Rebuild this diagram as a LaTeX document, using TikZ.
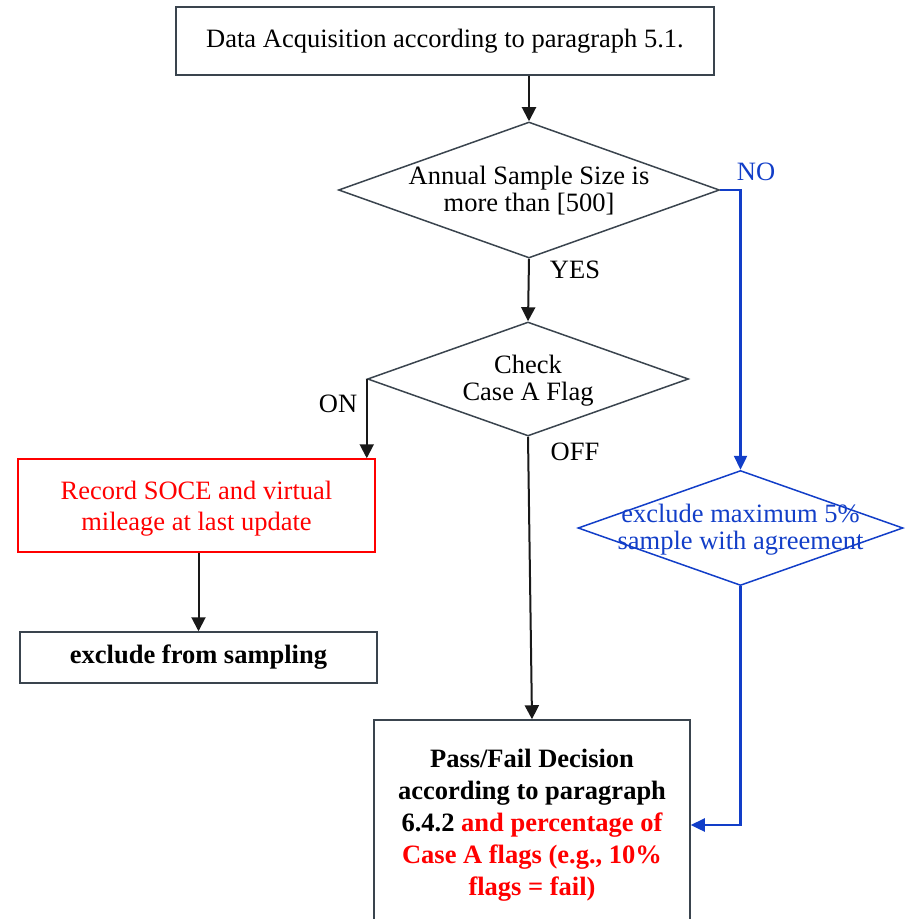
\documentclass[tikz,border=0pt]{standalone}
\usepackage{fontspec}
\setmainfont{Liberation Serif}
\usetikzlibrary{shapes.geometric}
\usetikzlibrary{arrows.meta}
\definecolor{boxgray}{RGB}{58,68,78}
\definecolor{flagred}{RGB}{255,0,0}
\definecolor{nopath}{RGB}{18,62,200}
\newcommand{\ctrtext}[1]{\makebox[0pt]{\raisebox{-1.5pt}[\height][\depth]{\begin{tabular}{@{}c@{}}#1\end{tabular}}}}

\begin{document}
\begin{tikzpicture}[x=0.5pt, y=-0.5pt,
		font=\fontsize{13.25}{15.5}\selectfont,
		stepbox/.style={draw=boxgray, line width=0.75pt, rectangle, align=center, inner sep=0pt},
		choice/.style={draw=boxgray, line width=0.75pt, diamond, inner sep=0pt, font=\fontsize{13.25}{13.4}\selectfont},
		arr/.style={draw=black!90, line width=1pt, -{Triangle[length=7pt, width=7pt]}},
		bluearr/.style={draw=nopath, line width=1.2pt, -{Triangle[length=7pt, width=6.5pt]}}]
			\clip (0,0) rectangle (905,919);
			\node [stepbox, minimum width=269pt, minimum height=34pt] (acq) at (445,41) {Data Acquisition according to paragraph 5.1.};
			\node [choice, minimum width=190.5pt, minimum height=68pt] (size) at (529,190) {\ctrtext{Annual Sample Size is\\more than [500]}};
			\node [choice, minimum width=160.5pt, minimum height=57pt] (flag) at (528,379) {\ctrtext{Check\\Case A Flag}};
			\node [choice, draw=nopath, text=nopath, minimum width=162.5pt, minimum height=57.5pt] (trim) at (740.5,528) {\ctrtext{exclude maximum 5\%\\sample with agreement}};
			\node [stepbox, draw=flagred, text=flagred, minimum width=178.5pt, minimum height=46.5pt] (rec) at (196.5,505.5) {\raisebox{-1.5pt}[\height][\depth]{\begin{tabular}{@{}c@{}}Record SOCE and virtual\\mileage at last update\end{tabular}}};
			\node [stepbox, minimum width=178.5pt, minimum height=25.5pt, font=\fontsize{13.25}{15.5}\selectfont\bfseries] (excl) at (198.5,657.5) {exclude from sampling};
			\node [stepbox, minimum width=158pt, minimum height=105pt, font=\fontsize{13.25}{16}\selectfont\bfseries] (pass) at (532,825) {Pass/Fail Decision\\according to paragraph\\6.4.2 \textcolor{flagred}{and percentage of}\\\textcolor{flagred}{Case A flags (e.g., 10\%}\\\textcolor{flagred}{flags = fail)}};
			\draw [arr] (acq.south -| size.north) -- (size.north);
			\draw [arr] (size.south) -- (flag.north);
			\draw [arr] (flag.west) -- (flag.west |- rec.north);
			\draw [arr] (rec.south -| excl.north) -- (excl.north);
			\draw [arr] (flag.south) -- (pass.north);
			\draw [bluearr] (size.east) -| (trim.north);
			\draw [bluearr] (trim.south) |- (pass.east);
			\node (yes) at (575,270) {YES};
			\node (no) [text=nopath] at (756,172) {NO};
			\node (on) at (338,404) {ON};
			\node (off) at (575,452) {OFF};
	\end{tikzpicture}
\end{document}
